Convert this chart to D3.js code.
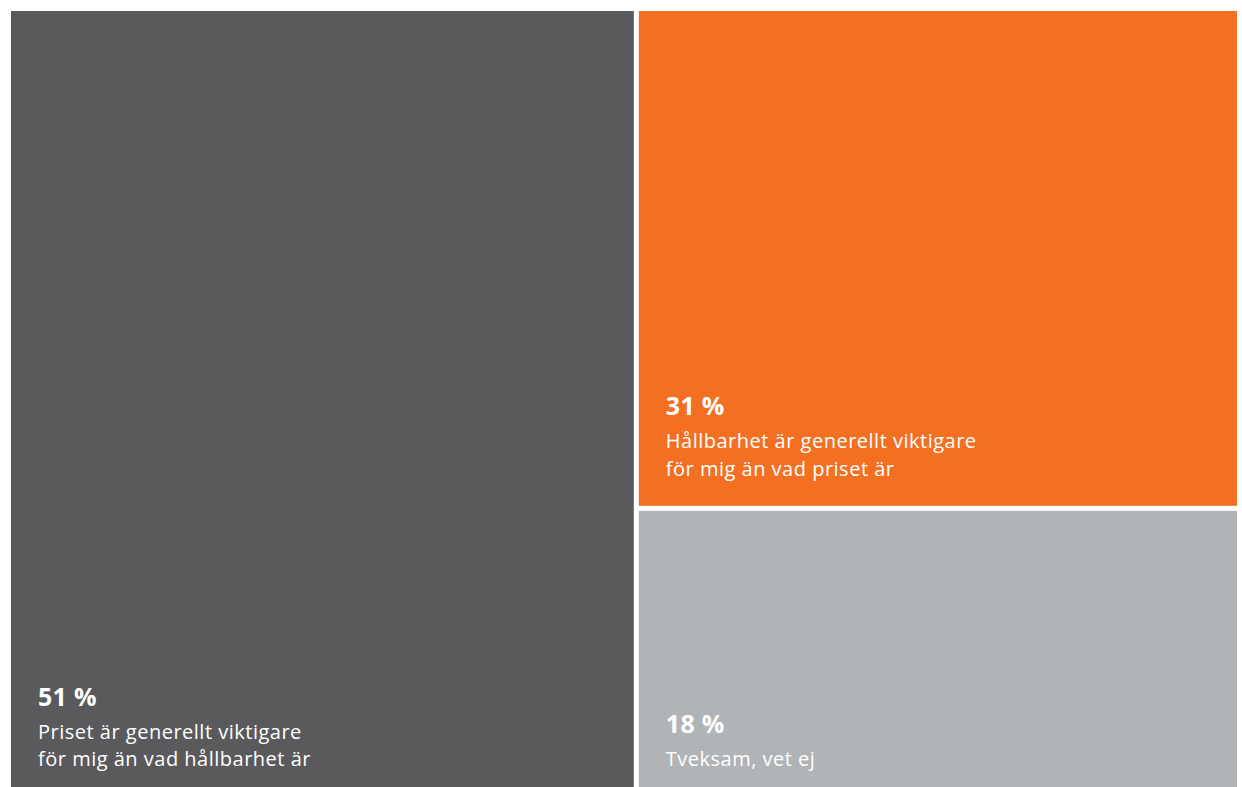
<!DOCTYPE html>
<html>
<head>
<meta charset="utf-8">
<script src="https://cdn.jsdelivr.net/npm/d3@7"></script>
<style>
  html, body { margin: 0; padding: 0; background: #ffffff; overflow: hidden; }
  svg { display: block; }
  text { font-family: "Open Sans", "Noto Sans", sans-serif; fill: #ffffff; }
</style>
</head>
<body>
<svg id="chart" width="1242" height="787"></svg>
<script>
// Survey answers: share of respondents (percent)
const answers = [
  "Priset är generellt viktigare för mig än vad hållbarhet är",
  "Hållbarhet är generellt viktigare för mig än vad priset är",
  "Tveksam, vet ej"
];
const shares = [51, 31, 18];
const labelLines = [
  ["Priset är generellt viktigare", "för mig än vad hållbarhet är"],
  ["Hållbarhet är generellt viktigare", "för mig än vad priset är"],
  ["Tveksam, vet ej"]
];
const colors = ["#5a5a5c", "#f37022", "#b1b4b6"];

const W = 1242, H = 787;
// The tiled area runs a little past the bottom edge of the page
const area = { left: 11, top: 11, right: 1237, bottom: 796 };

const svg = d3.select("#chart");

const root = d3.hierarchy({
  children: answers.map((a, i) => ({ name: a, value: shares[i], idx: i }))
}).sum(d => d.value || 0);

d3.treemap()
  .tile(d3.treemapSquarify)
  .size([area.right - area.left, area.bottom - area.top])
  .paddingInner(5)
  .round(false)(root);

const g = svg.append("g").attr("transform", `translate(${area.left},${area.top})`);

const cell = g.selectAll("g.cell")
  .data(root.leaves())
  .join("g")
  .attr("class", "cell");

cell.append("rect")
  .attr("x", d => d.x0)
  .attr("y", d => d.y0)
  .attr("width", d => d.x1 - d.x0)
  .attr("height", d => d.y1 - d.y0)
  .attr("fill", d => colors[d.data.idx]);

const lineGap = 27.5;
cell.each(function(d) {
  const c = d3.select(this);
  const lines = labelLines[d.data.idx];
  const x = d.x0 + 27;
  const lastBase = d.y1 - 30;
  const firstBase = lastBase - (lines.length - 1) * lineGap;
  c.append("text")
    .attr("x", x)
    .attr("y", firstBase - 33)
    .attr("font-size", 25)
    .attr("font-weight", 700)
    .attr("letter-spacing", 0.3)
    .text(d3.format("d")(d.data.value) + " %");
  lines.forEach((t, i) => {
    c.append("text")
      .attr("x", x)
      .attr("y", firstBase + i * lineGap)
      .attr("font-size", 20)
      .attr("font-weight", 400)
      .attr("letter-spacing", 0.5)
      .text(t);
  });
});
</script>
</body>
</html>
